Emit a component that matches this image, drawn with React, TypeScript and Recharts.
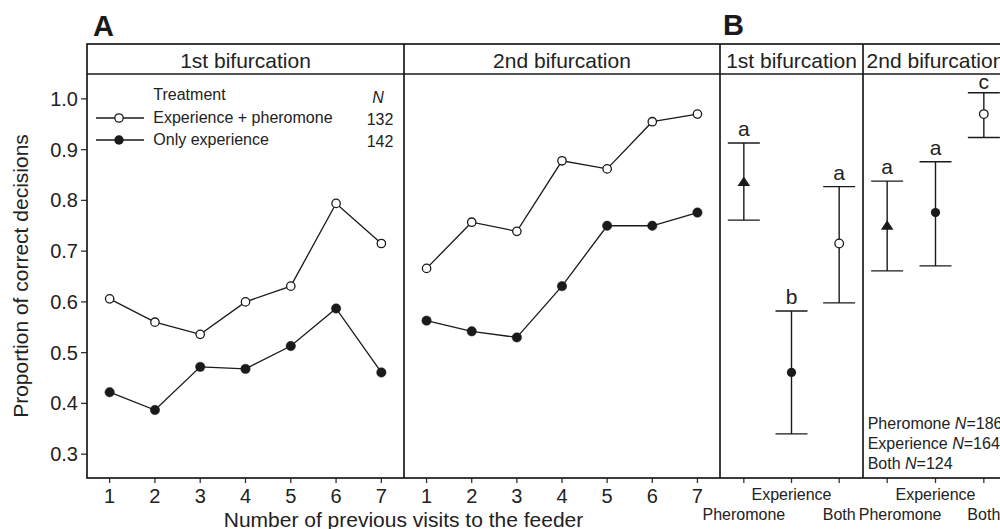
import React from "react";
import {
  LineChart,
  Line,
  XAxis,
  YAxis,
  ScatterChart,
  Scatter,
  ErrorBar,
} from "recharts";

// ---------- data ----------
const visits = [1, 2, 3, 4, 5, 6, 7];
const firstPheromone = [0.606, 0.56, 0.536, 0.6, 0.631, 0.794, 0.715];
const firstOnly = [0.422, 0.387, 0.472, 0.468, 0.513, 0.587, 0.461];
const secondPheromone = [0.666, 0.757, 0.739, 0.878, 0.862, 0.955, 0.97];
const secondOnly = [0.563, 0.542, 0.53, 0.631, 0.75, 0.75, 0.776];

const yTicks = [0.3, 0.4, 0.5, 0.6, 0.7, 0.8, 0.9, 1.0];

const bCategories = ["Pheromone", "Experience", "Both"];
const bShapes = ["triangle", "filled", "open"];
const b1Mean = [0.836, 0.461, 0.715];
const b1Lower = [0.761, 0.34, 0.598];
const b1Upper = [0.913, 0.582, 0.827];
const b1Letters = ["a", "b", "a"];
const b2Mean = [0.75, 0.776, 0.97];
const b2Lower = [0.661, 0.671, 0.924];
const b2Upper = [0.838, 0.876, 1.012];
const b2Letters = ["a", "a", "c"];

const stripLabels = ["1st bifurcation", "2nd bifurcation"];
const legendTitle = "Treatment";
const legendSeries = ["Experience + pheromone", "Only experience"];
const legendN = ["132", "142"];
const bSampleSizes = [
  ["Pheromone", "186"],
  ["Experience", "164"],
  ["Both", "124"],
];

// ---------- builders ----------
const lineData = (a: number[], b: number[]) =>
  visits.map((v, i) => ({ x: v, pher: a[i], only: b[i] }));

const bData = (mean: number[], lo: number[], hi: number[], letters: string[]) =>
  mean.map((m, i) => ({
    x: i + 1,
    y: m,
    err: [m - lo[i], hi[i] - m],
    shape: bShapes[i],
    hi: hi[i],
    letter: letters[i],
  }));

const FONT = '"Liberation Sans", Arial, Helvetica, sans-serif';
const INK = "#1a1a1a";
const TXT = "#222";
const Y_DOMAIN: [number, number] = [0.253, 1.049];
const TOP = 74;
const XH = 51;
const W = 1000;
const H = 529;

const tickStyle = { fontSize: 20, fill: TXT, fontFamily: FONT };

const markerShape = (props: any) => {
  const { cx, cy, payload } = props;
  if (cx == null || cy == null) return <g />;
  if (payload.shape === "triangle") {
    return (
      <path
        d={`M${cx},${cy - 5.5} L${cx + 6.3},${cy + 4} L${cx - 6.3},${cy + 4} Z`}
        fill={INK}
      />
    );
  }
  if (payload.shape === "filled") {
    return <circle cx={cx} cy={cy} r={4.6} fill={INK} />;
  }
  return (
    <circle cx={cx} cy={cy} r={4.3} fill="#fff" stroke={INK} strokeWidth={1.3} />
  );
};

const letterShape = (props: any) => {
  const { cx, cy, payload } = props;
  if (cx == null || cy == null) return <g />;
  // keep the letter inside the panel, below the strip
  const y = Math.max(cy - 7, TOP + 15);
  return (
    <text
      x={cx}
      y={y}
      textAnchor="middle"
      fontSize={21}
      fill={TXT}
      fontFamily={FONT}
    >
      {payload.letter}
    </text>
  );
};

const makeBTick = (shiftFirst: number) => (props: any) => {
  const { x, y, payload } = props;
  const i = Math.round(payload.value) - 1;
  const upper = i === 1;
  const dx = i === 0 ? shiftFirst : 0;
  return (
    <text
      x={x + dx}
      y={y + (upper ? 17 : 36.5)}
      textAnchor="middle"
      fontSize={16}
      fill={TXT}
      fontFamily={FONT}
    >
      {bCategories[i]}
    </text>
  );
};

const LinePanel = ({
  a,
  b,
  left,
  right,
  showY,
}: {
  a: number[];
  b: number[];
  left: number;
  right: number;
  showY: boolean;
}) => (
  <div style={{ position: "absolute", left: 0, top: 0 }}>
    <LineChart
      width={W}
      height={H}
      data={lineData(a, b)}
      margin={{ top: TOP, right: W - right, bottom: 0, left: showY ? 0 : left }}
    >
      <XAxis
        dataKey="x"
        type="number"
        domain={[0.5, 7.5]}
        ticks={visits}
        height={XH}
        axisLine={false}
        tickLine={{ stroke: "#333", strokeWidth: 1.3 }}
        tickSize={5}
        tickMargin={6}
        tick={tickStyle}
        interval={0}
      />
      <YAxis
        type="number"
        domain={Y_DOMAIN}
        allowDataOverflow
        ticks={yTicks}
        width={left}
        hide={!showY}
        axisLine={false}
        tickLine={{ stroke: "#333", strokeWidth: 1.3 }}
        tickSize={6}
        tickMargin={3}
        tick={tickStyle}
        tickFormatter={(v: number) => v.toFixed(1)}
      />
      <Line
        dataKey="only"
        stroke={INK}
        strokeWidth={1.3}
        isAnimationActive={false}
        dot={{ r: 4.7, fill: INK, stroke: INK, strokeWidth: 0.5 }}
      />
      <Line
        dataKey="pher"
        stroke={INK}
        strokeWidth={1.3}
        isAnimationActive={false}
        dot={{ r: 4.2, fill: "#fff", stroke: INK, strokeWidth: 1.3 }}
      />
    </LineChart>
  </div>
);

const BPanel = ({
  data,
  left,
  right,
  shiftFirst,
}: {
  data: any[];
  left: number;
  right: number;
  shiftFirst: number;
}) => (
  <div style={{ position: "absolute", left: 0, top: 0 }}>
    <ScatterChart
      width={W + 10}
      height={H}
      margin={{ top: TOP, right: W + 10 - right, bottom: 0, left }}
    >
      <XAxis
        dataKey="x"
        type="number"
        domain={[0.5, 3.5]}
        ticks={[1, 2, 3]}
        height={XH}
        axisLine={false}
        tickLine={{ stroke: "#333", strokeWidth: 1.3 }}
        tickSize={5}
        tickMargin={0}
        tick={makeBTick(shiftFirst)}
        interval={0}
      />
      <YAxis
        dataKey="y"
        type="number"
        domain={Y_DOMAIN}
        allowDataOverflow
        hide
      />
      <Scatter data={data} isAnimationActive={false} shape={markerShape}>
        <ErrorBar
          dataKey="err"
          direction="y"
          width={16}
          stroke={INK}
          strokeWidth={1.4}
          isAnimationActive={false}
        />
      </Scatter>
      <Scatter
        data={data.map((d) => ({ ...d, y: d.hi }))}
        isAnimationActive={false}
        shape={letterShape}
      />
    </ScatterChart>
  </div>
);

export default function App() {
  const b1 = bData(b1Mean, b1Lower, b1Upper, b1Letters);
  const b2 = bData(b2Mean, b2Lower, b2Upper, b2Letters);
  const frame = { stroke: INK, strokeWidth: 1.7, fill: "none" };
  return (
    <div
      style={{
        position: "absolute",
        left: 0,
        top: 0,
        width: W,
        height: H,
        overflow: "hidden",
        background: "#fff",
        fontFamily: FONT,
      }}
    >
      <LinePanel a={firstPheromone} b={firstOnly} left={87} right={404} showY />
      <LinePanel a={secondPheromone} b={secondOnly} left={404} right={720} showY={false} />
      <BPanel data={b1} left={720} right={863} shiftFirst={0} />
      <BPanel data={b2} left={863} right={1008} shiftFirst={13} />

      <svg
        width={W}
        height={H}
        style={{ position: "absolute", left: 0, top: 0, pointerEvents: "none" }}
      >
        {/* frames */}
        <rect x={87} y={44} width={921} height={434} {...frame} />
        <line x1={87} y1={74} x2={1008} y2={74} {...frame} />
        <line x1={404} y1={44} x2={404} y2={478} {...frame} />
        <line x1={720} y1={44} x2={720} y2={478} {...frame} />
        <line x1={863} y1={44} x2={863} y2={478} {...frame} />

        {/* panel letters */}
        <text x={93} y={36} fontSize={29} fontWeight="bold" fill={INK} fontFamily={FONT}>
          A
        </text>
        <text x={723} y={35} fontSize={29} fontWeight="bold" fill={INK} fontFamily={FONT}>
          B
        </text>

        {/* strips */}
        <g fontSize={21} fill={TXT} fontFamily={FONT} textAnchor="middle">
          <text x={245.5} y={67.5}>{stripLabels[0]}</text>
          <text x={562} y={67.5}>{stripLabels[1]}</text>
          <text x={791.5} y={67.5}>{stripLabels[0]}</text>
          <text x={935.5} y={67.5}>{stripLabels[1]}</text>
        </g>

        {/* axis titles */}
        <text
          x={27.5}
          y={276}
          transform="rotate(-90 27.5 276)"
          textAnchor="middle"
          fontSize={21}
          fill={TXT}
          fontFamily={FONT}
        >
          Proportion of correct decisions
        </text>
        <text x={403.5} y={526.5} textAnchor="middle" fontSize={21} fill={TXT} fontFamily={FONT}>
          Number of previous visits to the feeder
        </text>

        {/* legend A */}
        <g fontSize={16} fill={TXT} fontFamily={FONT}>
          <text x={153.3} y={99.8}>{legendTitle}</text>
          <text x={378} y={102.7} textAnchor="middle" fontStyle="italic">N</text>
          <text x={153.3} y={123.3}>{legendSeries[0]}</text>
          <text x={153.3} y={145}>{legendSeries[1]}</text>
          <text x={380} y={124.8} textAnchor="middle">{legendN[0]}</text>
          <text x={380} y={146.5} textAnchor="middle">{legendN[1]}</text>
        </g>
        <line x1={96} y1={118} x2={144} y2={118} stroke={INK} strokeWidth={1.3} />
        <circle cx={119} cy={118} r={4.2} fill="#fff" stroke={INK} strokeWidth={1.3} />
        <line x1={96} y1={140} x2={144} y2={140} stroke={INK} strokeWidth={1.3} />
        <circle cx={119} cy={140} r={4.7} fill={INK} />

        {/* legend B */}
        <g fontSize={16} fill={TXT} fontFamily={FONT}>
          {bSampleSizes.map(([name, n], i) => (
            <text key={name} x={867.7} y={429 + i * 19.75}>
              {name + " "}
              <tspan fontStyle="italic">N</tspan>
              {"=" + n}
            </text>
          ))}
        </g>
      </svg>
    </div>
  );
}
